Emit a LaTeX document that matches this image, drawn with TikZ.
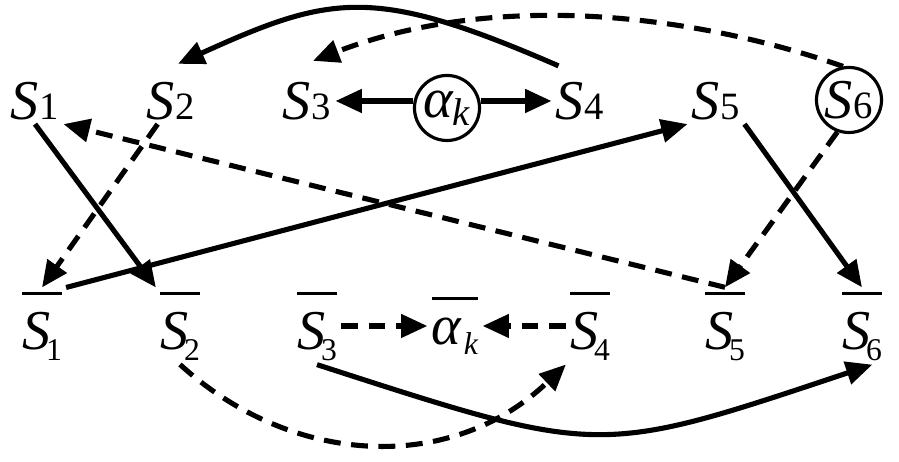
\documentclass[tikz,border=0pt]{standalone}
\usepackage{fontspec}
\setmainfont{Liberation Serif}
\usepackage{tikz}
\usetikzlibrary{arrows.meta}
\newcommand{\topS}[1]{\textit{S}\kern0.3pt{\fontsize{11}{13}\selectfont #1}}
\newcommand{\barbox}[1]{\vbox{\hrule height 0.9pt\kern 5pt\hbox{#1}}}
\newcommand{\botS}[1]{\barbox{\textit{S}\kern-1.2pt\raisebox{-3pt}{\fontsize{9}{11}\selectfont #1}}}

\begin{document}
\begin{tikzpicture}[x=0.01cm,y=-0.01cm]
\tikzset{zi/.style={inner sep=1pt, font=\fontsize{16}{19}\selectfont}}
\tikzset{yuan/.style={zi, draw, circle, line width=0.9pt, minimum size=0.65cm, inner sep=0pt}}
\tikzset{jian/.style={draw, line width=1.45pt, -{Triangle[length=7.5pt,width=6.5pt]}}}
\tikzset{xujian/.style={jian, dash pattern=on 4.8pt off 3pt}}

\useasboundingbox (0,0) rectangle (899,462);

\node[zi](s1)at(35,101){\topS{1}};
\node[zi](s2)at(171,101){\topS{2}};
\node[zi](s3)at(307,101){\topS{3}};
\node[yuan](ak)at(447,108){\textit{α}\kern-0.5pt\raisebox{-0.15em}{\fontsize{11}{13}\selectfont\textit{k}}};
\node[zi](s4)at(580,101){\topS{4}};
\node[zi](s5)at(716,101){\topS{5}};
\node[yuan](s6)at(849,100){\topS{6}};

\node[zi](b1)at(42,326){\botS{1}};
\node[zi](b2)at(180,326){\botS{2}};
\node[zi](b3)at(317,326){\botS{3}};
\node[zi](bk)at(455,326){\barbox{\textit{α}\kern0.5pt\raisebox{-3pt}{\fontsize{9}{11}\selectfont\textit{k}}}};
\node[zi](b4)at(590,326){\botS{4}};
\node[zi](b5)at(725,326){\botS{5}};
\node[zi](b6)at(862,326){\botS{6}};

\path[jian] (ak.west |- s3) -- (s3);
\path[jian] (ak.east |- s4) -- (s4);
\path[jian] (s1.south) -- (b2.north west);
\path[xujian] (s2.-120) -- (b1.north);
\path[jian] (b1.north east) -- (s5.south west);
\path[xujian] (b5.north) -- (s1.south east);
\path[jian] (s5.south east) -- (b6.north);
\path[xujian] (s6.-110) -- (b5.north);
\path[jian] ([shift={(7,-12)}]s4.north west) .. controls +(-184,-80) and +(154,-70) .. ([shift={(7,-14)}]s2.north);
\path[xujian] (s6.100) .. controls +(-143,-50) and +(187,-72) .. ([shift={(6,-17)}]s3.north);
\path[xujian] (b3) -- (bk);
\path[xujian] (b4) -- (bk);
\path[xujian] (b2.south) .. controls +(112,102) and +(-115,110) .. (b4.south west);
\path[jian] (b3.south) .. controls +(285,92) and +(-276,92) .. (b6.-75);
\end{tikzpicture}
\end{document}
